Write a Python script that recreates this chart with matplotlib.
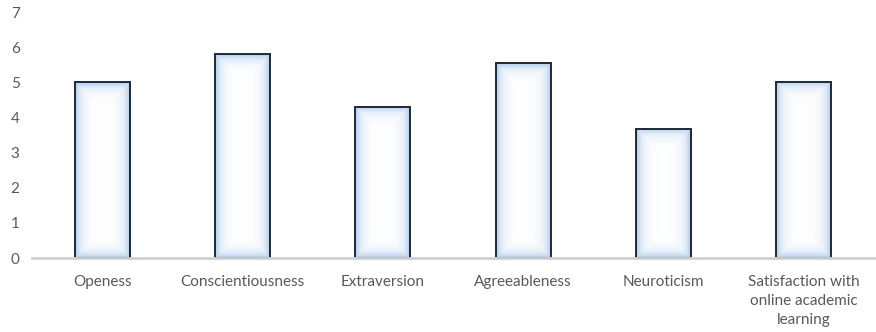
import numpy as np
import matplotlib
matplotlib.use("Agg")
import matplotlib.pyplot as plt

categories = ["Openess", "Conscientiousness", "Extraversion", "Agreeableness",
              "Neuroticism", "Satisfaction with\nonline academic\nlearning"]
values = [5.0, 5.8, 4.3, 5.54, 3.68, 5.02]
yticks = [0, 1, 2, 3, 4, 5, 6, 7]

W, H, DPI = 876, 332, 100
fig = plt.figure(figsize=(W / DPI, H / DPI), dpi=DPI)
ax = fig.add_axes([32 / W, (H - 258) / H, (874 - 32) / W, (258 - 12) / H])

ax.set_xlim(-0.5, len(categories) - 0.5)
ax.set_ylim(0, 7)
x = np.arange(len(categories))
bw = 0.39
bars = ax.bar(x, values, width=bw, facecolor="none", edgecolor="#1e2a36",
              linewidth=1.4, zorder=3)

edge_col = np.array([168, 198, 234]) / 255.0
white = np.array([1.0, 1.0, 1.0])
for b in bars:
    x0, y0 = b.get_x(), b.get_y()
    w, h = b.get_width(), b.get_height()
    p0 = ax.transData.transform((x0, y0))
    p1 = ax.transData.transform((x0 + w, y0 + h))
    wp = int(round(abs(p1[0] - p0[0])))
    hp = int(round(abs(p1[1] - p0[1])))
    xx = np.arange(wp) + 0.5
    yy = np.arange(hp) + 0.5
    dx = np.minimum(xx, wp - xx)[None, :]
    dy = np.minimum(yy, hp - yy)[:, None]
    d = np.minimum(dx, dy)
    t = np.exp(-d / 5.5)
    img = white[None, None, :] * (1 - t[..., None]) + edge_col[None, None, :] * t[..., None]
    ax.imshow(img, extent=(x0, x0 + w, y0, y0 + h), aspect="auto",
              interpolation="bilinear", zorder=2, origin="lower")

ax.set_xlim(-0.5, len(categories) - 0.5)
ax.set_ylim(0, 7)
for s in ["top", "right", "left"]:
    ax.spines[s].set_visible(False)
ax.spines["bottom"].set_color("#d0d0d0")
ax.spines["bottom"].set_linewidth(2.0)
ax.spines["bottom"].set_zorder(4)

ax.set_xticks(x)
ax.set_xticklabels(categories, fontsize=11, color="#595959", family="Lato",
                   linespacing=1.45)
ax.set_yticks(yticks)
ax.set_yticklabels([str(v) for v in yticks], fontsize=11, color="#595959", family="Lato")
ax.tick_params(axis="x", length=0, pad=12)
ax.tick_params(axis="y", length=0, pad=9)

fig.savefig("out.png", dpi=DPI)
